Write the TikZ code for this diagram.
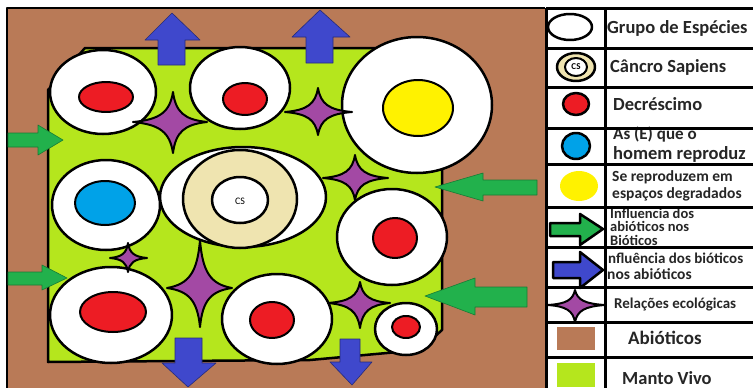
\documentclass[tikz,border=0pt]{standalone}
\usepackage{fontspec}
\setmainfont{Carlito}
\definecolor{brownc}{RGB}{185,122,87}
\definecolor{limec}{RGB}{181,230,29}
\definecolor{redc}{RGB}{237,28,36}
\definecolor{bluec}{RGB}{0,162,232}
\definecolor{yellowc}{RGB}{255,242,0}
\definecolor{purplec}{RGB}{163,73,164}
\definecolor{greenc}{RGB}{34,177,76}
\definecolor{indigoc}{RGB}{63,72,204}
\definecolor{beigec}{RGB}{239,228,176}
\newcommand{\fstar}[6]{%
  \draw[starsty] ({#1},{#2-#5}) .. controls ({#1+0.08*#4},{#2-0.33*#5}) and ({#1+0.33*#4},{#2-0.08*#5}) .. ({#1+#4},{#2})
  .. controls ({#1+0.33*#4},{#2+0.08*#6}) and ({#1+0.08*#4},{#2+0.33*#6}) .. ({#1},{#2+#6})
  .. controls ({#1-0.08*#3},{#2+0.33*#6}) and ({#1-0.33*#3},{#2+0.08*#6}) .. ({#1-#3},{#2})
  .. controls ({#1-0.33*#3},{#2-0.08*#5}) and ({#1-0.08*#3},{#2-0.33*#5}) .. cycle;}
\begin{document}
\begin{tikzpicture}[x=1pt,y=-1pt,line join=round,
  ol/.style={draw=black,line width=2.5pt},
  wcirc/.style={ol,fill=white},
  starsty/.style={draw=black,line width=2pt,fill=purplec},
  garr/.style={fill=greenc,draw=greenc!70!black,line width=0.6pt},
  barr/.style={fill=indigoc,draw=indigoc!60!black,line width=0.6pt},
  lgarr/.style={draw=black,line width=2.5pt},
  lbl/.style={anchor=west,inner sep=0pt,font=\fontsize{18.5}{18.5}\selectfont\bfseries,text=black!85},
  lbls/.style={anchor=west,inner sep=0pt,font=\fontsize{15.5}{15.5}\selectfont\bfseries,text=black!85},
  lblt/.style={anchor=west,inner sep=0pt,font=\fontsize{14.5}{14.5}\selectfont\bfseries,text=black!85},
  grid/.style={draw=black,line width=3pt}]
\useasboundingbox (0,0) rectangle (753,388);
\fill[white] (0,0) rectangle (753,388);
% abiotic background
\fill[brownc] (7,8) rectangle (545,390);
\draw[line width=2.5pt] (7,390) -- (7,8) -- (545,8);
% manto vivo
\draw[ol,fill=limec] (85,48) -- (442,48) -- (442,330) -- (420,350) -- (387,353) -- (310,360) -- (48,362) -- (48,90) -- cycle;
% groups
\draw[wcirc] (103,92) ellipse [x radius=53pt,y radius=42pt];
\fill[redc,draw=black,line width=2pt] (106,97) ellipse [x radius=27pt,y radius=15pt];
\draw[wcirc] (240,88) ellipse [x radius=50pt,y radius=41pt];
\fill[redc,draw=black,line width=2pt] (245,99) ellipse [x radius=22pt,y radius=16pt];
\draw[wcirc] (417,105) ellipse [x radius=75pt,y radius=68pt];
\fill[yellowc,draw=black,line width=2pt] (418,108) ellipse [x radius=35pt,y radius=28pt];
\draw[wcirc] (106,205) ellipse [x radius=54pt,y radius=45pt];
\fill[bluec,draw=black,line width=2pt] (105,203) ellipse [x radius=30pt,y radius=22pt];
\draw[wcirc] (243,197) ellipse [x radius=83pt,y radius=50pt];
\draw[ol,fill=beigec] (240,199) ellipse [x radius=57pt,y radius=49pt];
\draw[wcirc] (240,200) ellipse [x radius=28pt,y radius=23pt];
\node[font=\fontsize{10}{10}\selectfont,inner sep=0pt] (cs) at (240,201) {CS};
\draw[wcirc] (392,237) ellipse [x radius=55pt,y radius=48pt];
\fill[redc,draw=black,line width=2pt] (395,238) ellipse [x radius=22pt,y radius=20pt];
\draw[wcirc] (111,315) ellipse [x radius=61pt,y radius=48pt];
\fill[redc,draw=black,line width=2pt] (113,312) ellipse [x radius=33pt,y radius=20pt];
\draw[wcirc] (277,319) ellipse [x radius=55pt,y radius=45pt];
\fill[redc,draw=black,line width=2pt] (272,320) ellipse [x radius=22pt,y radius=18pt];
\draw[wcirc] (406,329) ellipse [x radius=31pt,y radius=26pt];
\fill[redc,draw=black,line width=2pt] (406,327) ellipse [x radius=14pt,y radius=11pt];
% ecological relations
\fstar{173}{122}{40}{34}{30}{31}
\fstar{318}{112}{33}{34}{24}{23}
\fstar{355}{178}{32}{33}{23}{22}
\fstar{128}{258}{18}{19}{15}{14}
\fstar{200}{288}{33}{32}{48}{39}
\fstar{360}{303}{32}{30}{21}{25}
% biotic -> abiotic arrows
\draw[barr] (158,65) -- (158,40) -- (145,40) -- (172,13) -- (200,40) -- (185,40) -- (185,65) -- cycle;
\draw[barr] (306,63) -- (306,37) -- (292,37) -- (320,10) -- (350,37) -- (333,37) -- (333,63) -- cycle;
\draw[barr] (175,338) -- (175,363) -- (162,363) -- (188,387) -- (216,363) -- (202,363) -- (202,338) -- cycle;
\draw[barr] (340,339) -- (340,362) -- (330,362) -- (352,385) -- (372,362) -- (360,362) -- (360,339) -- cycle;
% abiotic -> biotic arrows
\draw[garr] (8,133) -- (38,133) -- (38,125) -- (63,140) -- (38,155) -- (38,147) -- (8,147) -- cycle;
\draw[garr] (8,272) -- (42,272) -- (42,265) -- (67,278) -- (42,290) -- (42,285) -- (8,285) -- cycle;
\draw[garr] (537,180) -- (483,180) -- (483,173) -- (435,187) -- (483,201) -- (483,195) -- (537,195) -- cycle;
\draw[garr] (527,287) -- (475,287) -- (475,278) -- (425,296) -- (475,315) -- (475,307) -- (527,307) -- cycle;
% legend
\fill[white] (546,8) rectangle (753,388);
\draw[ol,fill=white] (570,27) ellipse [x radius=22pt,y radius=13pt];
\draw[ol,fill=beigec] (576,67) ellipse [x radius=19pt,y radius=14pt];
\draw[line width=2pt,fill=white] (576,67) ellipse [x radius=11pt,y radius=9pt];
\node[font=\fontsize{9}{9}\selectfont\bfseries,inner sep=0pt] (lcs) at (576,67) {CS};
\draw[ol,fill=redc] (576,104) ellipse [x radius=13pt,y radius=11pt];
\draw[ol,fill=bluec] (576,146) ellipse [x radius=14pt,y radius=13pt];
\fill[yellowc] (579,186) ellipse [x radius=19pt,y radius=15pt];
\draw[lgarr,fill=greenc] (550,223) -- (580,223) -- (580,214) -- (603,229) -- (580,245) -- (580,236) -- (550,236) -- cycle;
\draw[lgarr,fill=indigoc] (553,262) -- (580,262) -- (580,252) -- (603,270) -- (580,288) -- (580,278) -- (553,278) -- cycle;
\draw[line width=2pt] (548,305) -- (606,305);
\fstar{575}{305}{27}{30}{15}{17}
\fill[brownc] (557,327) rectangle (595,350);
\fill[limec] (557,363) rectangle (595,387);
\node[lbl] (t1) at (607,28) {Grupo de Espécies};
\node[lbl] (t2) at (610,67) {Câncro Sapiens};
\node[lbl] (t3) at (613,104) {Decréscimo};
\node[lbl,font=\fontsize{17}{17}\selectfont\bfseries] (t4a) at (613,135) {As (E) que o};
\node[lbl] (t4b) at (613,154) {homem reproduz};
\node[lbls] (t5a) at (612,177) {Se reproduzem em};
\node[lbls] (t5b) at (612,194) {espaços degradados};
\node[lblt] (t6a) at (610,213) {Influencia dos};
\node[lblt] (t6b) at (610,226.5) {abióticos nos};
\node[lblt] (t6c) at (610,240) {Bióticos};
\node[lbls,font=\fontsize{15}{15}\selectfont\bfseries] (t7a) at (604,258) {Influência dos bióticos};
\node[lbls,font=\fontsize{15.5}{15.5}\selectfont\bfseries] (t7b) at (607,274) {nos abióticos};
\node[lbls,font=\fontsize{15}{15}\selectfont\bfseries] (t8) at (614,305) {Relações ecológicas};
\node[lbl,font=\fontsize{19}{19}\selectfont\bfseries] (t9) at (628,338) {Abióticos};
\node[lbl] (t10) at (622,378) {Manto Vivo};
\draw[grid] (546,8) -- (546,390);
\draw[grid] (605,8) -- (605,390);
\foreach \yy in {8,48,87,128,164,207,247,287,322,357}
  \draw[grid] (546,\yy) -- (753,\yy);
\end{tikzpicture}
\end{document}
